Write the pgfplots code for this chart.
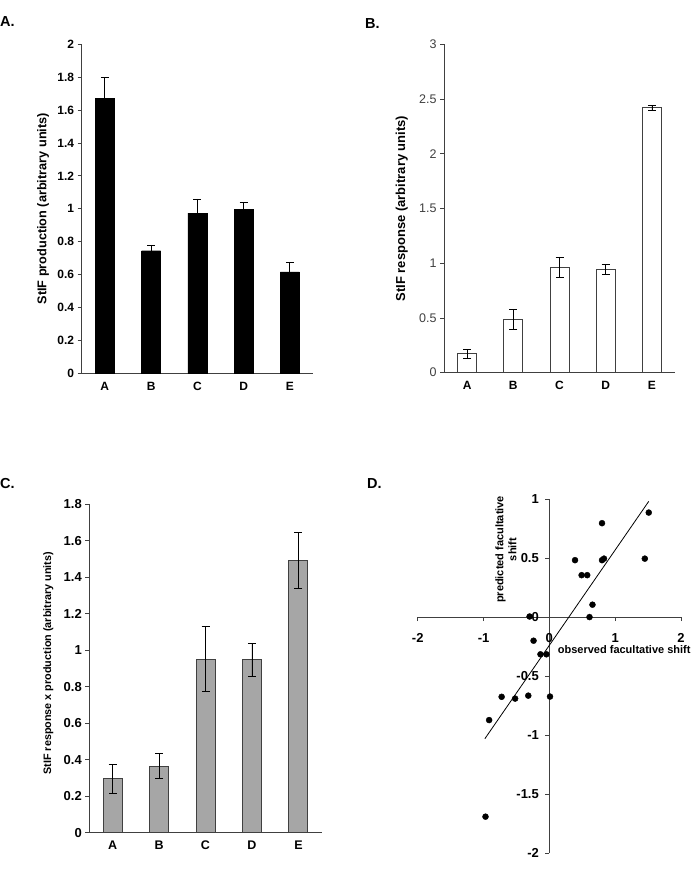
\documentclass[border=0pt]{standalone}
\usepackage{fontspec}
\setmainfont{Liberation Sans}
\usepackage{pgfplots}
\pgfplotsset{compat=1.18}

\definecolor{axisgray}{HTML}{404040}
\definecolor{barfill}{HTML}{A6A6A6}

\pgfplotsset{
  barpanel/.style={
    scale only axis,
    anchor=south west,
    axis x line=bottom,
    axis y line=left,
    axis line style={-, axisgray, line width=0.8pt},
    xmin=-0.5, xmax=4.5,
    ymin=0,
    xtick={0,1,2,3,4},
    xticklabels={A,B,C,D,E},
    major x tick style={draw=none},
    major y tick style={axisgray, line width=0.8pt},
    tick align=outside,
    major tick length=4pt,
    /pgf/number format/assume math mode=true,
    xticklabel style={font=\fontsize{12}{14}\selectfont\bfseries, yshift=-1pt},
    ybar,
    bar width=19pt,
    clip=false,
  },
}

\begin{document}
\begin{tikzpicture}
\useasboundingbox (0pt,0pt) rectangle (691pt,877pt);

% panel letters
\node[anchor=west, inner sep=0pt, font=\fontsize{14.5}{16}\selectfont\bfseries] at (0pt,855.3pt) {A.};
\node[anchor=west, inner sep=0pt, font=\fontsize{14.5}{16}\selectfont\bfseries] at (365pt,853.7pt) {B.};
\node[anchor=west, inner sep=0pt, font=\fontsize{14.5}{16}\selectfont\bfseries] at (0pt,393.7pt) {C.};
\node[anchor=west, inner sep=0pt, font=\fontsize{14.5}{16}\selectfont\bfseries] at (367pt,393.7pt) {D.};

% A: StIF production
\begin{axis}[barpanel,
  at={(81.7pt,503.7pt)}, width=231.3pt, height=329pt,
  ymax=2, ytick={0,0.2,...,2.01},
  yticklabel style={font=\fontsize{12}{14}\selectfont\bfseries},
  every axis y label/.style={at={(axis description cs:-0.167,0.5)}, rotate=90, anchor=center,
    font=\fontsize{12.7}{15}\selectfont\bfseries},
  ylabel={StIF production (arbitrary units)},
]
\addplot[fill=black, draw=black,
  error bars/.cd, y dir=plus, y explicit,
  error bar style={black, line width=0.8pt},
  error mark options={rotate=90, mark size=4pt, line width=0.8pt, black}]
  coordinates {
    (0,1.672) +- (0,0.125)
    (1,0.745) +- (0,0.035)
    (2,0.973) +- (0,0.087)
    (3,0.997) +- (0,0.044)
    (4,0.616) +- (0,0.060)
  };
\end{axis}

% B: StIF response
\begin{axis}[barpanel,
  at={(444pt,504.3pt)}, width=231pt, height=328.4pt,
  ymax=3, ytick={0,0.5,1,1.5,2,2.5,3},
  yticklabel style={font=\fontsize{12.5}{14}\selectfont, text=axisgray},
  every axis y label/.style={at={(axis description cs:-0.183,0.5)}, rotate=90, anchor=center,
    font=\fontsize{13}{15}\selectfont\bfseries},
  ylabel={StIF response (arbitrary units)},
]
\addplot[fill=white, draw=axisgray, line width=1pt,
  error bars/.cd, y dir=both, y explicit,
  error bar style={black, line width=0.8pt},
  error mark options={rotate=90, mark size=4pt, line width=0.8pt, black}]
  coordinates {
    (0,0.171) +- (0,0.041)
    (1,0.487) +- (0,0.087)
    (2,0.963) +- (0,0.094)
    (3,0.944) +- (0,0.046)
    (4,2.420) +- (0,0.021)
  };
\end{axis}

% C: StIF response x production
\begin{axis}[barpanel,
  at={(89.3pt,44.3pt)}, width=232.4pt, height=328.4pt,
  ymax=1.8, ytick={0,0.2,...,1.81},
  yticklabel style={font=\fontsize{13}{15}\selectfont\bfseries},
  xticklabel style={font=\fontsize{12.5}{14}\selectfont\bfseries},
  every axis y label/.style={at={(axis description cs:-0.176,0.516)}, rotate=90, anchor=center,
    font=\fontsize{10.8}{13}\selectfont\bfseries},
  ylabel={StIF response x production (arbitrary units)},
]
\addplot[fill=barfill, draw=axisgray, line width=1pt,
  error bars/.cd, y dir=both, y explicit,
  error bar style={black, line width=0.8pt},
  error mark options={rotate=90, mark size=4pt, line width=0.8pt, black}]
  coordinates {
    (0,0.296) +- (0,0.078)
    (1,0.365) +- (0,0.070)
    (2,0.952) +- (0,0.178)
    (3,0.948) +- (0,0.090)
    (4,1.493) +- (0,0.155)
  };
\end{axis}

% D: predicted vs observed facultative shift
\begin{axis}[
  scale only axis, anchor=south west,
  at={(417.7pt,23.7pt)}, width=263.3pt, height=354.3pt,
  axis lines=middle,
  axis line style={-, axisgray, line width=0.8pt},
  xmin=-2, xmax=2, ymin=-2, ymax=1,
  xtick={-2,-1,0,1,2},
  ytick={-2,-1.5,-1,-0.5,0,0.5,1},
  hide obscured x ticks=false,
  hide obscured y ticks=false,
  tick align=outside,
  major tick length=4pt,
  tick style={axisgray, line width=0.8pt},
  /pgf/number format/assume math mode=true,
  xticklabel style={font=\fontsize{13}{15}\selectfont\bfseries, yshift=-9pt},
  yticklabel style={font=\fontsize{13}{15}\selectfont\bfseries, xshift=-3pt},
  every axis x label/.style={at={(axis cs:0.076,-0.275)}, anchor=west,
    font=\fontsize{11}{13}\selectfont\bfseries},
  every axis y label/.style={at={(axis cs:-0.66,0.573)}, rotate=90, anchor=center,
    align=center, font=\fontsize{11}{13}\selectfont\bfseries},
  xlabel={observed facultative shift},
  ylabel={predicted facultative\\shift},
  clip=false,
]
\addplot[only marks, mark=*, mark size=3pt, black] coordinates {
  (-0.30,0.005) (-0.24,-0.20) (-0.135,-0.315) (-0.045,-0.315)
  (-0.725,-0.675) (-0.52,-0.69) (-0.32,-0.665) (0.01,-0.673)
  (-0.915,-0.872) (-0.97,-1.69) (0.39,0.482) (0.49,0.355)
  (0.575,0.355) (0.655,0.105) (0.61,0.0) (0.80,0.795)
  (0.80,0.482) (0.83,0.495) (1.45,0.495) (1.51,0.885)
};
\addplot[black, line width=0.8pt] coordinates {(-0.98,-1.03) (1.51,0.98)};
\end{axis}
\end{tikzpicture}
\end{document}
